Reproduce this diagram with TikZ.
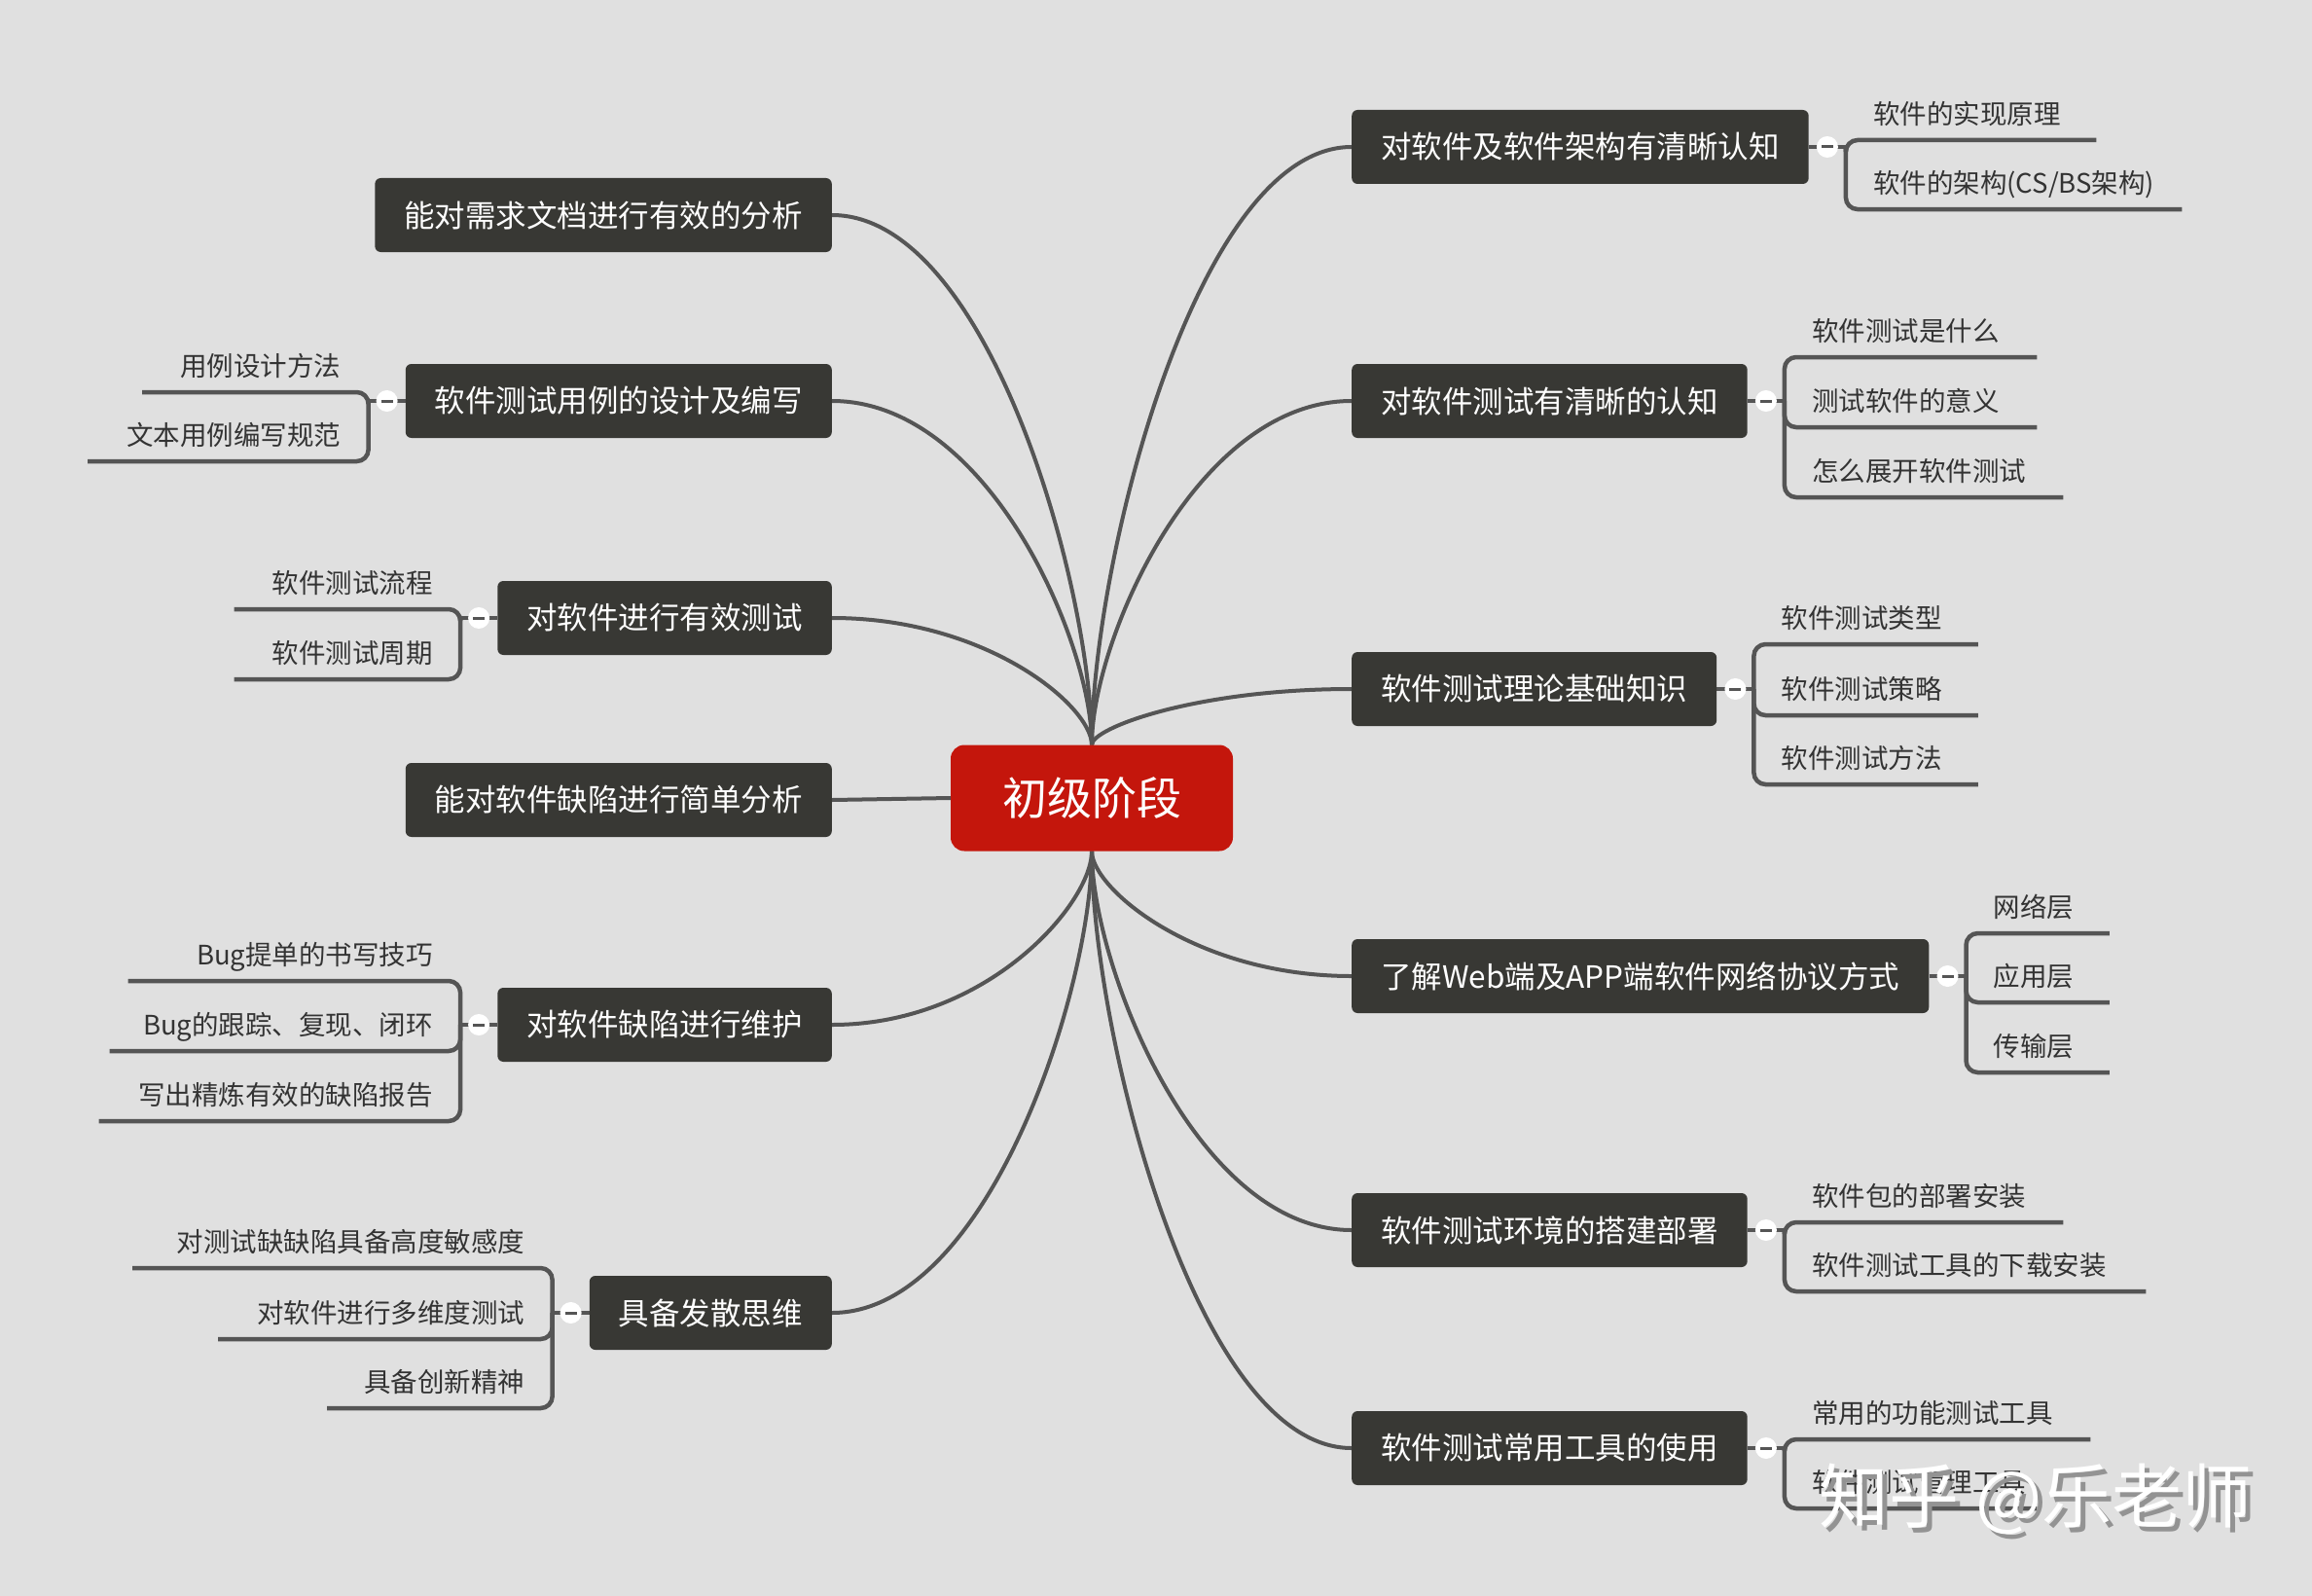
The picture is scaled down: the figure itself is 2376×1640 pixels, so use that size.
\documentclass[tikz,border=0pt]{standalone}
\usepackage{fontspec}
\usepackage{tikz}
\usetikzlibrary{positioning, calc, backgrounds}
\newfontfamily\cjk{Noto Sans CJK SC}
\definecolor{bggray}{RGB}{224, 224, 224}
\definecolor{topicdark}{RGB}{56, 56, 52}
\definecolor{rootred}{RGB}{196, 22, 12}
\definecolor{linegray}{RGB}{85, 85, 85}
\definecolor{subtextgray}{RGB}{51, 51, 51}

\begin{document}
\begin{tikzpicture}[x=1pt, y=-1pt,
  root/.style={fill=rootred, text=white, rounded corners=14pt, minimum width=290pt,
    minimum height=109pt, font=\cjk\fontsize{46}{52}\selectfont},
  topic/.style={fill=topicdark, text=white, rounded corners=6pt, minimum height=76pt,
    inner xsep=30pt, font=\cjk\fontsize{31.5}{36}\selectfont},
  subitem/.style={text=subtextgray, inner xsep=28pt, inner ysep=10pt, text height=24pt,
    text depth=6pt, font=\cjk\fontsize{27.5}{33}\selectfont},
  subright/.style={subitem, anchor=south west, align=left},
  subleft/.style={subitem, anchor=south east, align=right},
  toggle/.style={circle, fill=white, minimum size=22pt, inner sep=0pt,
    path picture={\draw[linegray, line width=3pt]
      ([xshift=-6pt]path picture bounding box.center) -- ([xshift=6pt]path picture bounding box.center);}},
  branch/.style={draw=linegray, line width=4pt},
  bracket/.style={draw=linegray, line width=4.5pt, rounded corners=12pt},
  watermark/.style={font=\cjk\fontsize{72}{80}\selectfont}]

  \useasboundingbox (0,0) rectangle (2376,1640);

  % root and main topics
  \node[root] (ctr) at (1122,820) {初级阶段};

  \node[topic, anchor=west] (r1) at (1389,151) {对软件及软件架构有清晰认知};
  \node[topic, anchor=west] (r2) at (1389,412) {对软件测试有清晰的认知};
  \node[topic, anchor=west] (r3) at (1389,708) {软件测试理论基础知识};
  \node[topic, anchor=west] (r4) at (1389,1003) {了解Web端及APP端软件网络协议方式};
  \node[topic, anchor=west] (r5) at (1389,1264) {软件测试环境的搭建部署};
  \node[topic, anchor=west] (r6) at (1389,1488) {软件测试常用工具的使用};

  \node[topic, anchor=east] (l1) at (855,221) {能对需求文档进行有效的分析};
  \node[topic, anchor=east] (l2) at (855,412) {软件测试用例的设计及编写};
  \node[topic, anchor=east] (l3) at (855,635) {对软件进行有效测试};
  \node[topic, anchor=east] (l4) at (855,822) {能对软件缺陷进行简单分析};
  \node[topic, anchor=east] (l5) at (855,1053) {对软件缺陷进行维护};
  \node[topic, anchor=east] (l6) at (855,1349) {具备发散思维};

  % fork points and toggles
  \coordinate (r1v) at ([xshift=38pt]r1.east);
  \coordinate (r2v) at ([xshift=38pt]r2.east);
  \coordinate (r3v) at ([xshift=38pt]r3.east);
  \coordinate (r4v) at ([xshift=38pt]r4.east);
  \coordinate (r5v) at ([xshift=38pt]r5.east);
  \coordinate (r6v) at ([xshift=38pt]r6.east);
  \coordinate (l2v) at ([xshift=-38pt]l2.west);
  \coordinate (l3v) at ([xshift=-38pt]l3.west);
  \coordinate (l5v) at ([xshift=-38pt]l5.west);
  \coordinate (l6v) at ([xshift=-38pt]l6.west);

  \node[toggle] (r1t) at ([xshift=19pt]r1.east) {};
  \node[toggle] (r2t) at ([xshift=19pt]r2.east) {};
  \node[toggle] (r3t) at ([xshift=19pt]r3.east) {};
  \node[toggle] (r4t) at ([xshift=19pt]r4.east) {};
  \node[toggle] (r5t) at ([xshift=19pt]r5.east) {};
  \node[toggle] (r6t) at ([xshift=19pt]r6.east) {};
  \node[toggle] (l2t) at ([xshift=-19pt]l2.west) {};
  \node[toggle] (l3t) at ([xshift=-19pt]l3.west) {};
  \node[toggle] (l5t) at ([xshift=-19pt]l5.west) {};
  \node[toggle] (l6t) at ([xshift=-19pt]l6.west) {};

  % sub items, right
  \node[subright, text width=201pt] (r1a) at (r1v |- 0,144) {软件的实现原理};
  \node[subright, text width=289pt] (r1b) at (r1v |- 0,215) {软件的架构(CS/BS架构)};
  \node[subright, text width=203pt] (r2a) at (r2v |- 0,367) {软件测试是什么};
  \node[subright, text width=203pt] (r2b) at (r2v |- 0,439) {测试软件的意义};
  \node[subright, text width=230pt] (r2c) at (r2v |- 0,511) {怎么展开软件测试};
  \node[subright, text width=174pt] (r3a) at (r3v |- 0,662) {软件测试类型};
  \node[subright, text width=174pt] (r3b) at (r3v |- 0,735) {软件测试策略};
  \node[subright, text width=174pt] (r3c) at (r3v |- 0,806) {软件测试方法};
  \node[subright, text width=91pt] (r4a) at (r4v |- 0,959) {网络层};
  \node[subright, text width=91pt] (r4b) at (r4v |- 0,1030) {应用层};
  \node[subright, text width=91pt] (r4c) at (r4v |- 0,1102) {传输层};
  \node[subright, text width=230pt] (r5a) at (r5v |- 0,1256) {软件包的部署安装};
  \node[subright, text width=315pt] (r5b) at (r5v |- 0,1327) {软件测试工具的下载安装};
  \node[subright, text width=258pt] (r6a) at (r6v |- 0,1479) {常用的功能测试工具};
  \node[subright, text width=203pt] (r6b) at (r6v |- 0,1550) {软件测试管理工具};

  % sub items, left
  \node[subleft, text width=176pt] (l2a) at (l2v |- 0,403) {用例设计方法};
  \node[subleft, text width=232pt] (l2b) at (l2v |- 0,474) {文本用例编写规范};
  \node[subleft, text width=176pt] (l3a) at (l3v |- 0,626) {软件测试流程};
  \node[subleft, text width=176pt] (l3b) at (l3v |- 0,698) {软件测试周期};
  \node[subleft, text width=285pt] (l5a) at (l5v |- 0,1008) {Bug提单的书写技巧};
  \node[subleft, text width=304pt] (l5b) at (l5v |- 0,1080) {Bug的跟踪、复现、闭环};
  \node[subleft, text width=315pt] (l5c) at (l5v |- 0,1152) {写出精炼有效的缺陷报告};
  \node[subleft, text width=375pt] (l6a) at (l6v |- 0,1303) {对测试缺缺陷具备高度敏感度};
  \node[subleft, text width=287pt] (l6b) at (l6v |- 0,1376) {对软件进行多维度测试};
  \node[subleft, text width=175pt] (l6c) at (l6v |- 0,1447) {具备创新精神};

  \begin{scope}[on background layer]
    \fill[bggray] (0,0) rectangle (2376,1640);
    % curves from the root
    \draw[branch] (ctr.north) .. controls ($(ctr.north)!0.3!(ctr.north |- r1.west)$) and ($(ctr.north |- r1.west)!0.4!(r1.west)$) .. (r1.west);
    \draw[branch] (ctr.north) .. controls ($(ctr.north)!0.3!(ctr.north |- r2.west)$) and ($(ctr.north |- r2.west)!0.4!(r2.west)$) .. (r2.west);
    \draw[branch] (ctr.north) .. controls ($(ctr.north)!0.3!(ctr.north |- r3.west)$) and ($(ctr.north |- r3.west)!0.4!(r3.west)$) .. (r3.west);
    \draw[branch] (ctr.south) .. controls ($(ctr.south)!0.3!(ctr.south |- r4.west)$) and ($(ctr.south |- r4.west)!0.4!(r4.west)$) .. (r4.west);
    \draw[branch] (ctr.south) .. controls ($(ctr.south)!0.3!(ctr.south |- r5.west)$) and ($(ctr.south |- r5.west)!0.4!(r5.west)$) .. (r5.west);
    \draw[branch] (ctr.south) .. controls ($(ctr.south)!0.3!(ctr.south |- r6.west)$) and ($(ctr.south |- r6.west)!0.4!(r6.west)$) .. (r6.west);
    \draw[branch] (ctr.north) .. controls ($(ctr.north)!0.3!(ctr.north |- l1.east)$) and ($(ctr.north |- l1.east)!0.4!(l1.east)$) .. (l1.east);
    \draw[branch] (ctr.north) .. controls ($(ctr.north)!0.3!(ctr.north |- l2.east)$) and ($(ctr.north |- l2.east)!0.4!(l2.east)$) .. (l2.east);
    \draw[branch] (ctr.north) .. controls ($(ctr.north)!0.3!(ctr.north |- l3.east)$) and ($(ctr.north |- l3.east)!0.4!(l3.east)$) .. (l3.east);
    \draw[branch] (ctr.west) -- (l4.east);
    \draw[branch] (ctr.south) .. controls ($(ctr.south)!0.3!(ctr.south |- l5.east)$) and ($(ctr.south |- l5.east)!0.4!(l5.east)$) .. (l5.east);
    \draw[branch] (ctr.south) .. controls ($(ctr.south)!0.3!(ctr.south |- l6.east)$) and ($(ctr.south |- l6.east)!0.4!(l6.east)$) .. (l6.east);
    % stubs and brackets
    \draw[branch] (r1.east) -- (r1v);
    \draw[branch] (r2.east) -- (r2v);
    \draw[branch] (r3.east) -- (r3v);
    \draw[branch] (r4.east) -- (r4v);
    \draw[branch] (r5.east) -- (r5v);
    \draw[branch] (r6.east) -- (r6v);
    \draw[branch] (l2.west) -- (l2v);
    \draw[branch] (l3.west) -- (l3v);
    \draw[branch] (l5.west) -- (l5v);
    \draw[branch] (l6.west) -- (l6v);
    \draw[bracket] (r1v) |- (r1a.south east);
    \draw[bracket] (r1v) |- (r1b.south east);
    \draw[bracket] (r2v) |- (r2a.south east);
    \draw[bracket] (r2v) |- (r2b.south east);
    \draw[bracket] (r2v) |- (r2c.south east);
    \draw[bracket] (r3v) |- (r3a.south east);
    \draw[bracket] (r3v) |- (r3b.south east);
    \draw[bracket] (r3v) |- (r3c.south east);
    \draw[bracket] (r4v) |- (r4a.south east);
    \draw[bracket] (r4v) |- (r4b.south east);
    \draw[bracket] (r4v) |- (r4c.south east);
    \draw[bracket] (r5v) |- (r5a.south east);
    \draw[bracket] (r5v) |- (r5b.south east);
    \draw[bracket] (r6v) |- (r6a.south east);
    \draw[bracket] (r6v) |- (r6b.south east);
    \draw[bracket] (l2v) |- (l2a.south west);
    \draw[bracket] (l2v) |- (l2b.south west);
    \draw[bracket] (l3v) |- (l3a.south west);
    \draw[bracket] (l3v) |- (l3b.south west);
    \draw[bracket] (l5v) |- (l5a.south west);
    \draw[bracket] (l5v) |- (l5b.south west);
    \draw[bracket] (l5v) |- (l5c.south west);
    \draw[bracket] (l6v) |- (l6a.south west);
    \draw[bracket] (l6v) |- (l6b.south west);
    \draw[bracket] (l6v) |- (l6c.south west);
  \end{scope}

  % watermark
  \node[watermark, text=gray!85] (wmshadow) at (2097,1545) {知乎 @乐老师};
  \node[watermark, text=white] (wm) at (2092,1540) {知乎 @乐老师};
\end{tikzpicture}
\end{document}
